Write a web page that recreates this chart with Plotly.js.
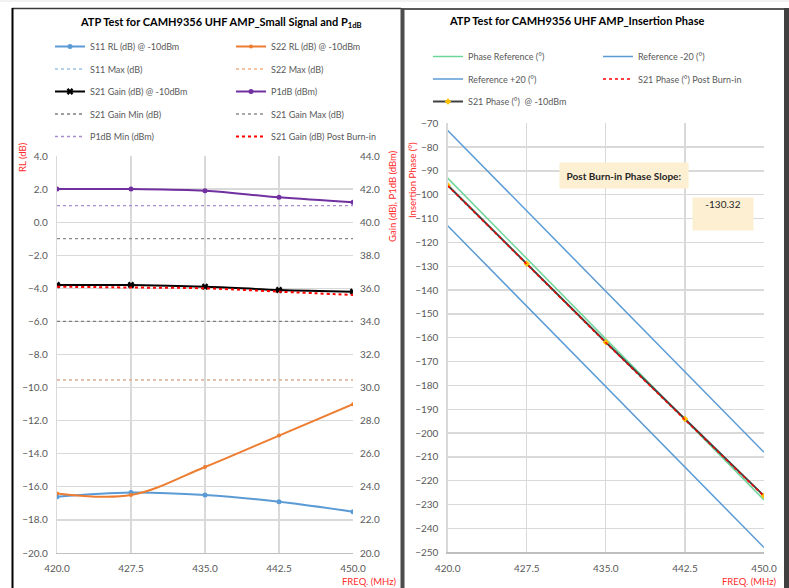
<!DOCTYPE html>
<html>
<head>
<meta charset="utf-8">
<script src="https://cdn.plot.ly/plotly-3.0.1.min.js"></script>
<style>
html,body{margin:0;padding:0;background:#fff;}
#chart{width:789px;height:588px;}
</style>
</head>
<body>
<div id="chart"></div>
<script>
// ---------- data ----------
const freq = [420.0, 427.5, 435.0, 442.5, 450.0];
const freqTicks = ["420.0", "427.5", "435.0", "442.5", "450.0"];

// Left chart: small signal and P1dB
const s11RL = [-16.6, -16.35, -16.5, -16.9, -17.5];
const s22RL = [-16.4, -16.5, -14.8, -12.9, -11.0];
const s11Max = [-9.54, -9.54, -9.54, -9.54, -9.54];
const s22Max = [-9.54, -9.54, -9.54, -9.54, -9.54];
const s21Gain = [36.2, 36.2, 36.1, 35.9, 35.8];
const p1dB = [42.0, 42.0, 41.9, 41.5, 41.2];
const s21GainMin = [34.0, 34.0, 34.0, 34.0, 34.0];
const s21GainMax = [39.0, 39.0, 39.0, 39.0, 39.0];
const p1dBMin = [41.0, 41.0, 41.0, 41.0, 41.0];
const s21GainPost = [36.1, 36.05, 36.0, 35.8, 35.6];

// Right chart: insertion phase
const phaseRef = [-93.0, -126.75, -160.5, -194.25, -228.0];
const refMinus20 = [-113.0, -146.75, -180.5, -214.25, -248.0];
const refPlus20 = [-73.0, -106.75, -140.5, -174.25, -208.0];
const s21PhasePost = [-96.2, -129.2, -162.1, -194.4, -226.5];
const s21Phase = [-96.0, -128.9, -161.9, -194.1, -226.3];
const phaseSlope = "-130.32";

// ---------- helpers ----------
const W = 789, H = 588;
const px = v => v / W;
const py = v => (H - v) / H;

function tr(name, x, y, rank, opts) {
  return Object.assign({type: 'scatter', mode: 'lines', name: name, x: x, y: y,
    hoverinfo: 'skip', legendgroup: name, legendrank: rank}, opts);
}

const BLUE = '#5B9BD5', ORANGE = '#ED7D31', PURPLE = '#7030A0';

const traces = [
  tr('S11 Max (dB)', freq, s11Max, 2, {xaxis:'x', yaxis:'y', legend:'legend',
     line:{color:'#9DC3E6', width:1.3, dash:'dot'}}),
  tr('S22 Max (dB)', freq, s22Max, 2, {xaxis:'x', yaxis:'y', legend:'legend2',
     line:{color:'#F4B183', width:1.3, dash:'dot'}}),
  tr('S21 Gain Min (dB)', freq, s21GainMin, 4, {xaxis:'x', yaxis:'y2', legend:'legend',
     line:{color:'#7F7F7F', width:1.3, dash:'dot'}}),
  tr('S21 Gain Max (dB)', freq, s21GainMax, 4, {xaxis:'x', yaxis:'y2', legend:'legend2',
     line:{color:'#8C8C8C', width:1.3, dash:'dot'}}),
  tr('P1dB Min (dBm)', freq, p1dBMin, 5, {xaxis:'x', yaxis:'y2', legend:'legend',
     line:{color:'#A98BD0', width:1.3, dash:'dot'}}),
  tr('S11 RL (dB) @ -10dBm', freq, s11RL, 1, {xaxis:'x', yaxis:'y', legend:'legend', mode:'lines+markers',
     line:{color:BLUE, width:2, shape:'spline'}, marker:{color:BLUE, size:5, symbol:'circle'}}),
  tr('S22 RL (dB) @ -10dBm', freq, s22RL, 1, {xaxis:'x', yaxis:'y', legend:'legend2', mode:'lines+markers',
     line:{color:ORANGE, width:2, shape:'spline'}, marker:{color:ORANGE, size:4, symbol:'circle'}}),
  tr('P1dB (dBm)', freq, p1dB, 3, {xaxis:'x', yaxis:'y2', legend:'legend2', mode:'lines+markers',
     line:{color:PURPLE, width:2, shape:'spline'}, marker:{color:PURPLE, size:5, symbol:'circle'}}),
  tr('S21 Gain (dB) @ -10dBm', freq, s21Gain, 3, {xaxis:'x', yaxis:'y2', legend:'legend', mode:'lines+markers',
     line:{color:'#000000', width:2, shape:'spline'}, marker:{color:'#000000', size:6, symbol:'x'}}),
  tr('S21 Gain (dB) Post Burn-in', freq, s21GainPost, 5, {xaxis:'x', yaxis:'y2', legend:'legend2',
     line:{color:'#FF0000', width:2, dash:'dot', shape:'spline'}}),

  // right chart
  tr('Phase Reference (°)', freq, phaseRef, 1, {xaxis:'x2', yaxis:'y3', legend:'legend3',
     line:{color:'#6DD59A', width:1.5}}),
  tr('Reference -20 (°)', freq, refMinus20, 1, {xaxis:'x2', yaxis:'y3', legend:'legend4',
     line:{color:BLUE, width:1.5}}),
  tr('Reference +20 (°)', freq, refPlus20, 2, {xaxis:'x2', yaxis:'y3', legend:'legend3',
     line:{color:BLUE, width:1.5}}),
  tr('S21 Phase (°)  @ -10dBm', freq, s21Phase, 3, {xaxis:'x2', yaxis:'y3', legend:'legend3', mode:'lines+markers',
     line:{color:'#404040', width:2}, marker:{color:'#FFC000', size:5, symbol:'diamond'}}),
  tr('S21 Phase (°) Post Burn-in', freq, s21PhasePost, 2, {xaxis:'x2', yaxis:'y3', legend:'legend4',
     line:{color:'#FF0000', width:1.5, dash:'dot'}})
];

const GRID = '#D9D9D9';
const TICKFONT = {family:'Lato, sans-serif', size:10, color:'#595959'};
const RED = '#FF2B2B';

function xax(domain, anchor) {
  return {domain: domain, anchor: anchor, range: [420, 450], tickmode: 'array',
    tickvals: freq, ticktext: freqTicks, showgrid: true, gridcolor: GRID, gridwidth: 1.3,
    showline: true, linecolor: '#BFBFBF', linewidth: 1.3, zeroline: false, ticks: '',
    ticklabelstandoff: 6, tickfont: TICKFONT, fixedrange: true};
}

const legBase = {orientation: 'v', xanchor: 'left', yanchor: 'top', bgcolor: 'rgba(0,0,0,0)',
  font: {family: 'Lato, sans-serif', size: 9, color: '#595959'}, traceorder: 'grouped',
  tracegroupgap: 3.5, itemclick: false, itemdoubleclick: false};

function ann(x, y, text, extra) {
  return Object.assign({xref:'paper', yref:'paper', x: px(x), y: py(y), text: text,
    xanchor:'center', yanchor:'middle', showarrow:false}, extra);
}

const layout = {
  width: W, height: H, margin: {l: 0, r: 0, t: 0, b: 0},
  paper_bgcolor: '#FFFFFF', plot_bgcolor: '#FFFFFF',
  font: {family: 'Lato, sans-serif', color: '#595959'},
  showlegend: true,
  xaxis: xax([px(57), px(353)], 'y'),
  yaxis: {domain: [py(553), py(156)], anchor: 'x', range: [-20, 4], tick0: -20, dtick: 2,
    tickformat: '.1f', showgrid: true, gridcolor: GRID, gridwidth: 1.3, zeroline: false,
    showline: true, linecolor: GRID, linewidth: 1.3, ticks: '', ticklabelstandoff: 6,
    tickfont: TICKFONT, fixedrange: true},
  yaxis2: {overlaying: 'y', side: 'right', anchor: 'x', range: [20, 44], tick0: 20, dtick: 2,
    tickformat: '.1f', showgrid: false, zeroline: false, showline: false, ticks: '',
    ticklabelstandoff: 6, tickfont: TICKFONT, fixedrange: true},
  xaxis2: xax([px(447.7), px(764)], 'y3'),
  yaxis3: {domain: [py(552.3), py(123.3)], anchor: 'x2', range: [-250, -70], tick0: -250, dtick: 10,
    showgrid: true, gridcolor: GRID, gridwidth: 1.3, zeroline: false,
    showline: true, linecolor: GRID, linewidth: 1.3, ticks: '', ticklabelstandoff: 6,
    tickfont: TICKFONT, fixedrange: true},
  legend: Object.assign({}, legBase, {x: px(50), y: py(32)}),
  legend2: Object.assign({}, legBase, {x: px(231), y: py(32)}),
  legend3: Object.assign({}, legBase, {x: px(428), y: py(42)}),
  legend4: Object.assign({}, legBase, {x: px(598), y: py(42)}),
  annotations: [
    ann(221, 22, 'ATP Test for CAMH9356 UHF AMP_Small Signal and P<sub>1dB</sub>',
      {font:{family:'Lato, sans-serif', size:11, color:'#000', weight:'bold'}}),
    ann(576, 21, 'ATP Test for CAMH9356 UHF AMP_Insertion Phase',
      {font:{family:'Lato, sans-serif', size:11, color:'#000', weight:'bold'}}),
    ann(22, 157, 'RL (dB)', {textangle: -90, font:{family:'Lato, sans-serif', size:9.5, color:RED}}),
    ann(392, 196, 'Gain (dB), P1dB (dBm)', {textangle: -90, font:{family:'Lato, sans-serif', size:9.5, color:RED}}),
    ann(412, 180, 'Insertion Phase (°)', {textangle: -90, font:{family:'Lato, sans-serif', size:9.5, color:RED}}),
    ann(369, 581, 'FREQ. (MHz)', {font:{family:'Lato, sans-serif', size:9.5, color:RED}}),
    ann(749, 581, 'FREQ. (MHz)', {font:{family:'Lato, sans-serif', size:9.5, color:RED}}),
    ann(624, 175.5, 'Post Burn-in Phase Slope:', {width: 128, height: 25, bgcolor:'#FCEFD2', borderpad: 0,
      font:{family:'Lato, sans-serif', size:10, color:'#262626', weight:'bold'}}),
    ann(723, 214, phaseSlope, {width: 60, height: 32, bgcolor:'#FCEFD2', borderpad: 0, valign:'top',
      font:{family:'Lato, sans-serif', size:10, color:'#262626'}})
  ],
  shapes: [
    {type:'line', xref:'paper', yref:'paper', x0:0, x1:1, y0:py(1), y1:py(1), line:{color:'#E3E3E3', width:1}},
    {type:'line', xref:'paper', yref:'paper', x0:px(12), x1:px(401), y0:py(8.5), y1:py(8.5), line:{color:'#3A3A3A', width:1.5}},
    {type:'line', xref:'paper', yref:'paper', x0:px(12.5), x1:px(12.5), y0:py(8), y1:0, line:{color:'#000000', width:2}},
    {type:'line', xref:'paper', yref:'paper', x0:px(402.5), x1:px(402.5), y0:py(8), y1:0, line:{color:'#4D4D4D', width:4}},
    {type:'line', xref:'paper', yref:'paper', x0:px(404), x1:px(784), y0:py(9), y1:py(9), line:{color:'#595959', width:2}},
    {type:'line', xref:'paper', yref:'paper', x0:px(786.5), x1:px(786.5), y0:py(8), y1:0, line:{color:'#404040', width:5}}
  ]
};

Plotly.newPlot('chart', traces, layout, {displayModeBar: false, staticPlot: true});
</script>
</body>
</html>
